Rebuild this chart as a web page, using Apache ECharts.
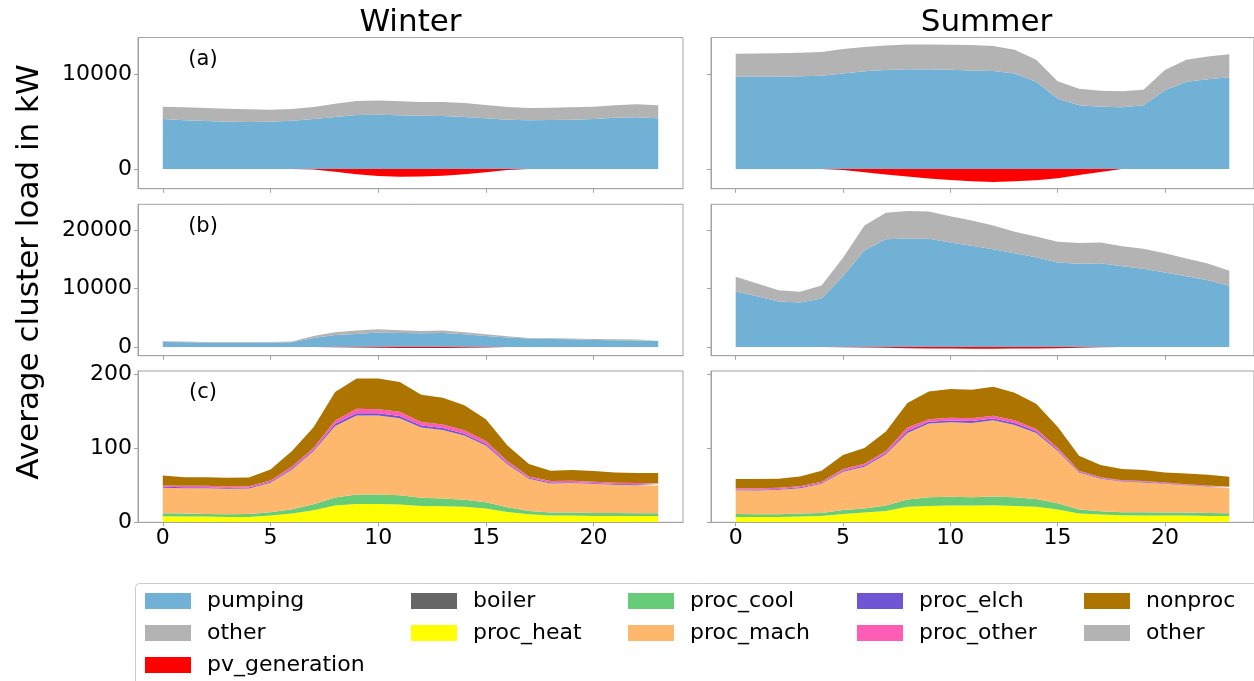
<!DOCTYPE html>
<html>
<head>
<meta charset="utf-8">
<script src="https://cdn.jsdelivr.net/npm/echarts@6/dist/echarts.min.js"></script>
<style>
  html, body { margin: 0; padding: 0; background: #ffffff; }
  #chart { width: 1254px; height: 681px; }
</style>
</head>
<body>
<div id="chart"></div>
<script>
// Hour of day (x values shared by every panel)
const HOURS = [0,1,2,3,4,5,6,7,8,9,10,11,12,13,14,15,16,17,18,19,20,21,22,23];
const X_TICKS = [0, 5, 10, 15, 20];
const Y_TICKS_A = [0, 10000];
const Y_TICKS_B = [0, 10000, 20000];
const Y_TICKS_C = [0, 100, 200];

const SEASONS = ['Winter', 'Summer'];
const PANEL_TAGS = ['(a)', '(b)', '(c)'];
const Y_LABEL = 'Average cluster load in kW';

// (a) cluster loads, kW
const winterA_pumping = [5300,5160,5090,5020,4980,5020,5120,5300,5510,5725,5760,5690,5650,5620,5510,5370,5230,5160,5200,5230,5300,5440,5480,5370];
const winterA_other   = [1310,1380,1380,1380,1350,1270,1240,1270,1420,1480,1490,1480,1450,1480,1490,1420,1340,1310,1300,1310,1310,1310,1380,1380];
const winterA_pv      = [0,0,0,0,0,0,0,-60,-300,-560,-760,-820,-810,-720,-560,-360,-120,0,0,0,0,0,0,0];
const summerA_pumping = [9790,9790,9790,9825,9895,10140,10355,10500,10567,10567,10530,10460,10390,10140,9260,7457,6750,6610,6538,6750,8340,9260,9506,9720];
const summerA_other   = [2440,2470,2500,2510,2510,2580,2580,2610,2650,2650,2650,2690,2650,2510,2330,1840,1770,1690,1700,1660,2160,2330,2440,2440];
const summerA_pv      = [0,0,0,0,0,-110,-350,-600,-810,-1030,-1170,-1310,-1380,-1310,-1200,-990,-640,-320,0,0,0,0,0,0];

// (b) cluster loads, kW
const winterB_pumping = [855,800,740,740,740,740,800,1540,2050,2220,2450,2390,2340,2390,2170,1880,1600,1425,1370,1310,1200,1150,1100,1000];
const winterB_other   = [115,110,115,115,115,115,110,340,460,570,570,460,400,400,340,290,220,115,110,115,170,160,150,100];
const winterB_pv      = [0,0,0,0,0,0,0,0,-60,-120,-160,-190,-190,-170,-130,-80,0,0,0,0,0,0,0,0];
const summerB_pumping = [9460,8660,7750,7580,8265,12085,16530,18410,18525,18470,17840,17270,16700,16015,15330,14420,14190,14310,13790,13340,12710,12085,11400,10430];
const summerB_other   = [2510,2170,1940,1825,2225,3135,4220,4500,4675,4670,4500,4330,4050,3650,3540,3535,3540,3530,3425,3420,3310,3015,2850,2570];
const summerB_pv      = [0,0,0,0,0,-40,-100,-160,-210,-250,-280,-300,-300,-290,-260,-210,-150,-70,0,0,0,0,0,0];

// (c) cluster loads by end use, kW
const winterC_boiler    = [0,0,0,0,0,0,0,0,0,0,0,0,0,0,0,0,0,0,0,0,0,0,0,0];
const winterC_procHeat  = [8.2,7.7,7.7,7.3,7.3,9.1,11.8,16.3,22.7,24.9,24.9,24.0,22.2,21.8,20.9,18.6,14.1,10.9,9.1,9.1,8.6,8.6,8.6,8.6];
const winterC_procCool  = [4.0,4.1,3.6,3.6,4.0,4.5,5.9,8.2,10.9,12.7,12.7,12.7,10.9,10.4,9.5,8.6,6.3,4.5,4.1,4.1,4.1,4.1,3.6,3.6];
const winterC_procMach  = [34.5,34.5,35.0,34.5,34.5,39.9,54.0,72.1,97.0,107.1,107.1,104.3,95.2,93.0,87.1,76.7,58.1,43.6,39.4,39.9,39.5,38.1,38.1,37.7];
const winterC_procElch  = [1.3,1.3,1.3,1.2,1.3,1.3,1.6,1.8,2.8,3.2,3.0,3.1,2.8,2.6,2.6,2.3,1.7,1.2,1.3,1.2,1.1,1.1,1.1,1.1];
const winterC_procOther = [1.9,1.9,1.9,1.9,1.9,1.9,2.2,2.6,4.6,5.8,5.5,5.6,4.9,4.6,4.6,4.0,2.8,1.9,1.9,1.9,1.6,1.6,1.7,1.6];
const winterC_nonproc   = [13.6,11.7,11.7,11.8,11.8,15.0,21.1,27.8,38.4,41.3,41.8,40.3,36.8,36.3,34.0,29.5,20.9,16.8,14.0,14.5,14.5,14.1,13.6,14.1];

const summerC_boiler    = [0,0,0,0,0,0,0,0,0,0,0,0,0,0,0,0,0,0,0,0,0,0,0,0];
const summerC_procHeat  = [7.3,7.3,7.3,7.7,8.6,11.3,13.2,15.4,20.9,22.2,22.7,22.7,23.1,22.2,20.9,17.2,11.8,10.4,9.5,9.1,9.1,9.1,8.6,8.6];
const summerC_procCool  = [4.0,3.6,3.6,4.1,4.1,5.5,5.4,7.3,9.9,11.8,11.8,11.3,11.8,11.8,10.8,8.7,5.4,4.6,4.1,4.5,4.1,4.1,4.1,3.6];
const summerC_procMach  = [32.2,32.2,33.1,34.5,39.5,51.7,56.7,69.4,90.3,99.8,101.1,100.7,103.4,98.0,89.4,71.1,50.4,44.0,41.7,40.4,39.0,37.1,35.8,34.1];
const summerC_procElch  = [1.1,1.1,1.1,1.1,1.2,1.5,1.7,1.9,2.6,2.4,2.4,2.5,2.4,2.5,2.2,1.7,1.0,1.0,0.8,0.8,0.8,0.7,0.7,0.8];
const summerC_procOther = [1.7,1.7,1.6,1.6,1.6,2.1,2.4,2.6,4.6,3.5,3.5,3.8,3.5,3.8,3.2,2.4,1.2,1.2,1.0,1.0,1.0,0.7,0.7,0.9];
const summerC_nonproc   = [12.2,12.6,12.3,13.1,14.8,19.1,21.3,26.3,33.2,37.6,39.0,38.6,39.5,37.2,34.0,28.2,20.4,16.4,15.0,14.9,13.6,14.5,14.5,13.7];

const COLORS = {
  pumping: '#72b1d6',
  other: '#b3b3b3',
  pv_generation: '#ff0000',
  boiler: '#666666',
  proc_heat: '#ffff00',
  proc_cool: '#66cc78',
  proc_mach: '#fdb86d',
  proc_elch: '#6f55d4',
  proc_other: '#ff5cb5',
  nonproc: '#ae7400'
};

const FONT = 'DejaVu Sans';
const SPINE = '#a3a3a3';

// Layout of the 3 x 2 panel grid (pixels)
const COL_LEFT = [138, 711];
const COL_WIDTH = 545;
const ROW_TOP = [37.5, 204.3, 371];
const ROW_HEIGHT = [151.2, 151.4, 151.3];
const Y_RANGE = [[-2100, 13950], [-1500, 24360], [0, 205]];
const Y_TICKS = [Y_TICKS_A, Y_TICKS_B, Y_TICKS_C];

const grids = [], xAxes = [], yAxes = [];
for (let r = 0; r < 3; r++) {
  for (let c = 0; c < 2; c++) {
    grids.push({
      left: COL_LEFT[c], top: ROW_TOP[r], width: COL_WIDTH, height: ROW_HEIGHT[r],
      show: true, borderColor: SPINE, borderWidth: 1, backgroundColor: 'transparent',
      containLabel: false
    });
    const gi = grids.length - 1;
    xAxes.push({
      type: 'value', gridIndex: gi, min: -1.15, max: 24.15, z: 5,
      axisLine: { show: true, onZero: false, lineStyle: { color: SPINE, width: 1 } },
      axisTick: { show: true, length: 4, customValues: X_TICKS, lineStyle: { color: SPINE } },
      axisLabel: { show: r === 2, customValues: X_TICKS, margin: 5, fontSize: 22, color: '#000', fontFamily: FONT,
                   formatter: v => String(v) },
      splitLine: { show: false }
    });
    yAxes.push({
      type: 'value', gridIndex: gi, min: Y_RANGE[r][0], max: Y_RANGE[r][1], z: 5,
      axisLine: { show: true, onZero: false, lineStyle: { color: SPINE, width: 1 } },
      axisTick: { show: true, length: 4, customValues: Y_TICKS[r], lineStyle: { color: SPINE } },
      axisLabel: { show: c === 0, customValues: Y_TICKS[r], margin: 6, fontSize: 22, color: '#000', fontFamily: FONT,
                   formatter: v => String(v) },
      splitLine: { show: false }
    });
  }
}

// Each data row is [load, hour]; encode maps hour to x so stacking runs on the load column
function layer(name, vals, gi, stacked) {
  const col = COLORS[name];
  return {
    type: 'line', name: name, xAxisIndex: gi, yAxisIndex: gi,
    stack: stacked ? 'stack' + gi : undefined,
    data: HOURS.map((h, i) => [vals[i], h]),
    encode: { x: 1, y: 0 },
    color: col, symbol: 'none', showSymbol: false, silent: true,
    lineStyle: { width: 0, color: col },
    itemStyle: { color: col },
    areaStyle: { color: col, opacity: 1, origin: 0 },
    animation: false
  };
}

const series = [
  layer('pumping', winterA_pumping, 0, true),
  layer('other', winterA_other, 0, true),
  layer('pv_generation', winterA_pv, 0, false),
  layer('pumping', summerA_pumping, 1, true),
  layer('other', summerA_other, 1, true),
  layer('pv_generation', summerA_pv, 1, false),
  layer('pumping', winterB_pumping, 2, true),
  layer('other', winterB_other, 2, true),
  layer('pv_generation', winterB_pv, 2, false),
  layer('pumping', summerB_pumping, 3, true),
  layer('other', summerB_other, 3, true),
  layer('pv_generation', summerB_pv, 3, false),

  layer('boiler', winterC_boiler, 4, true),
  layer('proc_heat', winterC_procHeat, 4, true),
  layer('proc_cool', winterC_procCool, 4, true),
  layer('proc_mach', winterC_procMach, 4, true),
  layer('proc_elch', winterC_procElch, 4, true),
  layer('proc_other', winterC_procOther, 4, true),
  layer('nonproc', winterC_nonproc, 4, true),
  layer('boiler', summerC_boiler, 5, true),
  layer('proc_heat', summerC_procHeat, 5, true),
  layer('proc_cool', summerC_procCool, 5, true),
  layer('proc_mach', summerC_procMach, 5, true),
  layer('proc_elch', summerC_procElch, 5, true),
  layer('proc_other', summerC_procOther, 5, true),
  layer('nonproc', summerC_nonproc, 5, true)
];

// Legend laid out in five columns, filled top to bottom
const LEGEND_COLUMNS = [
  ['pumping', 'other', 'pv_generation'],
  ['boiler', 'proc_heat'],
  ['proc_cool', 'proc_mach'],
  ['proc_elch', 'proc_other'],
  ['nonproc', 'other']
];
const LEGEND_LEFT = [145, 411, 628, 857, 1084];
const legends = LEGEND_COLUMNS.map((names, k) => ({
  orient: 'vertical', left: LEGEND_LEFT[k], top: 590,
  data: names, icon: 'rect', itemWidth: 46, itemHeight: 16, itemGap: 10,
  selectedMode: false, padding: 0,
  itemStyle: { borderWidth: 0 },
  textStyle: { fontSize: 22, lineHeight: 22, color: '#000', fontFamily: FONT, padding: [0, 0, 0, 11] }
}));

const graphics = [
  { type: 'rect', z: -1, shape: { x: 135.5, y: 583.5, width: 1130, height: 110, r: 4 },
    style: { fill: '#ffffff', stroke: '#cccccc', lineWidth: 1 } },
  { type: 'text', x: 30, y: 272, rotation: Math.PI / 2,
    style: { text: Y_LABEL, font: '31px "' + FONT + '"', fill: '#000', align: 'center', verticalAlign: 'middle' } },
  { type: 'text', x: COL_LEFT[0] + COL_WIDTH / 2, y: 23,
    style: { text: SEASONS[0], font: '31px "' + FONT + '"', fill: '#000', align: 'center', verticalAlign: 'middle' } },
  { type: 'text', x: COL_LEFT[1] + COL_WIDTH / 2 + 3, y: 23,
    style: { text: SEASONS[1], font: '31px "' + FONT + '"', fill: '#000', align: 'center', verticalAlign: 'middle' } }
];
PANEL_TAGS.forEach((t, r) => {
  graphics.push({ type: 'text', x: 203, y: ROW_TOP[r] + 22,
    style: { text: t, font: '21px "' + FONT + '"', fill: '#000', align: 'center', verticalAlign: 'middle' } });
});

const chart = echarts.init(document.getElementById('chart'), null, { renderer: 'canvas' });
chart.setOption({
  animation: false,
  backgroundColor: '#ffffff',
  grid: grids,
  xAxis: xAxes,
  yAxis: yAxes,
  legend: legends,
  series: series,
  graphic: graphics
});
</script>
</body>
</html>
